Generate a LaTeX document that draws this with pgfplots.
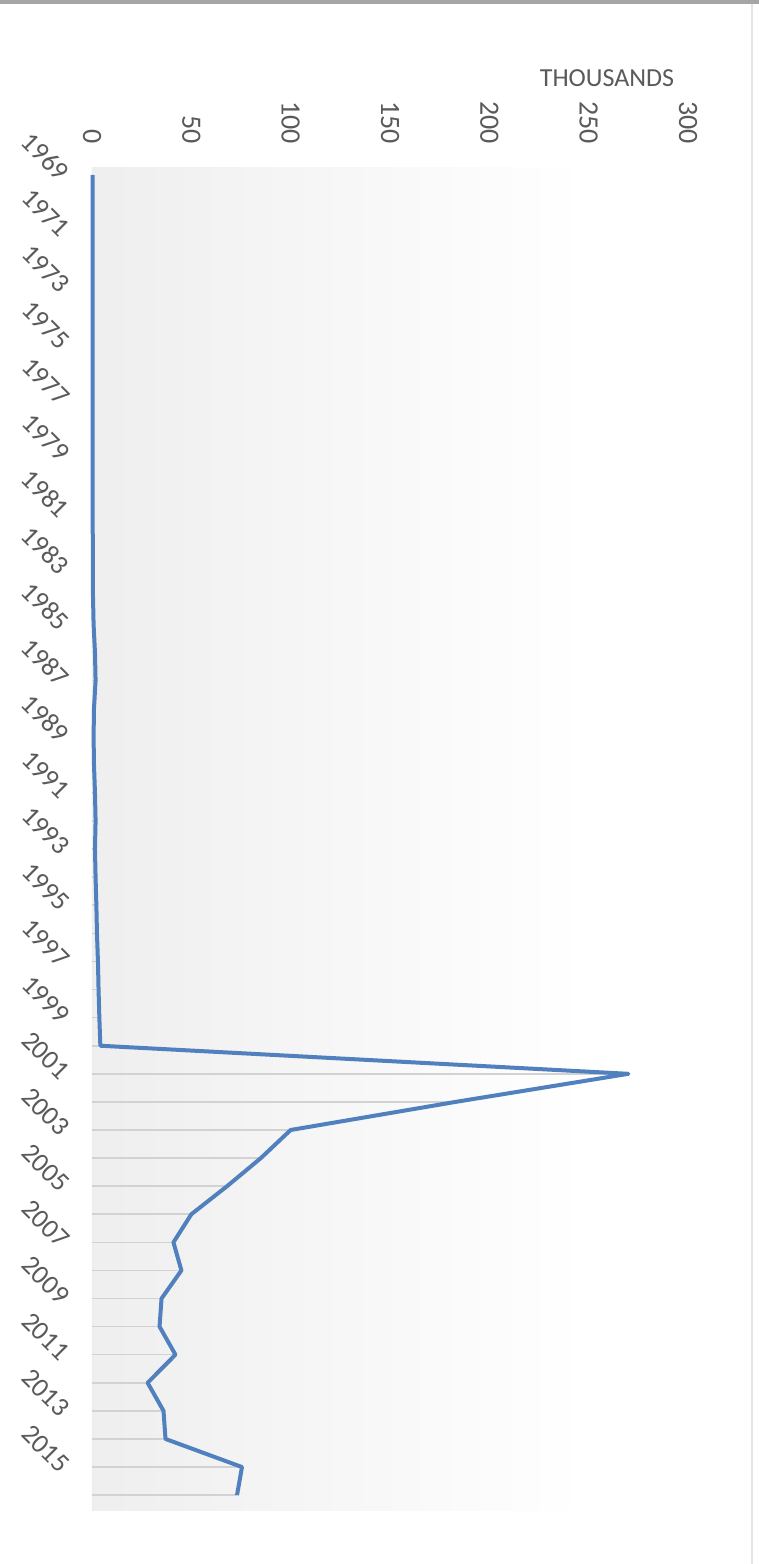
\documentclass[border=0pt]{standalone}
\usepackage{pgfplots}
\pgfplotsset{compat=1.18}
\usepackage{pgfplotstable}
\usepackage{fontspec}
\setmainfont{Carlito}
\definecolor{lineblue}{RGB}{80,128,190}
\definecolor{txtgray}{RGB}{90,90,90}
\pgfplotstableread{
year v
1969 0.3
1970 0.3
1971 0.3
1972 0.3
1973 0.3
1974 0.3
1975 0.3
1976 0.3
1977 0.3
1978 0.3
1979 0.3
1980 0.3
1981 0.3
1982 0.4
1983 0.4
1984 0.5
1985 0.8
1986 1.5
1987 1.8
1988 1.0
1989 0.8
1990 1.0
1991 1.5
1992 1.8
1993 1.5
1994 1.8
1995 2.2
1996 2.5
1997 3.0
1998 3.3
1999 3.7
2000 4.2
2001 270
2002 183
2003 100
2004 85
2005 68
2006 50
2007 41
2008 45
2009 35
2010 34
2011 42
2012 28
2013 36
2014 37
2015 75.5
2016 73
}\datatable
\begin{document}
\begin{tikzpicture}
\useasboundingbox (0,0) rectangle (379.5pt,782pt);
\fill[white] (0,0) rectangle (379.5pt,782pt);
\draw[gray!70, line width=2pt] (0,781pt) -- (379.5pt,781pt);
\draw[gray!20, line width=0.8pt] (376pt,0) -- (376pt,780pt);
\begin{axis}[
  at={(46pt,27pt)}, anchor=south west,
  scale only axis, width=298pt, height=671pt,
  xmin=0, xmax=300, ymin=1968.75, ymax=2016.53,
  y dir=reverse,
  clip=false,
  axis line style={draw=none},
  tick style={draw=none},
  xtick={0,50,...,300},
  ytick={1969,1971,...,2015},
  xticklabel pos=upper,
  ylabel={}, xlabel={},
  /pgf/number format/assume math mode=true,
  yticklabel={\pgfmathprintnumber[1000 sep={}]{\tick}},
  xticklabel style={rotate=-90, anchor=east, font=\fontsize{14}{16}\selectfont, text=txtgray},
  yticklabel style={yshift=-3pt, xshift=-3pt, rotate=-45, anchor=east, font=\fontsize{13.5}{16}\selectfont, text=txtgray},
  xticklabel shift=8.5pt,
  yticklabel shift=8pt,
]
\fill[left color=gray!13, right color=white, draw=none] (axis cs:0,1968.75) rectangle (axis cs:248,2016.53);
\addplot[xcomb, draw=gray!35, line width=0.8pt] table[x=v, y=year] {\datatable};
\addplot[lineblue, line width=2pt, line join=round, mark=none] table[x=v, y=year] {\datatable};
\end{axis}
\node[text=txtgray, font=\fontsize{13}{15}\selectfont] at (303.5pt,743pt) {THOUSANDS};
\end{tikzpicture}
\end{document}
